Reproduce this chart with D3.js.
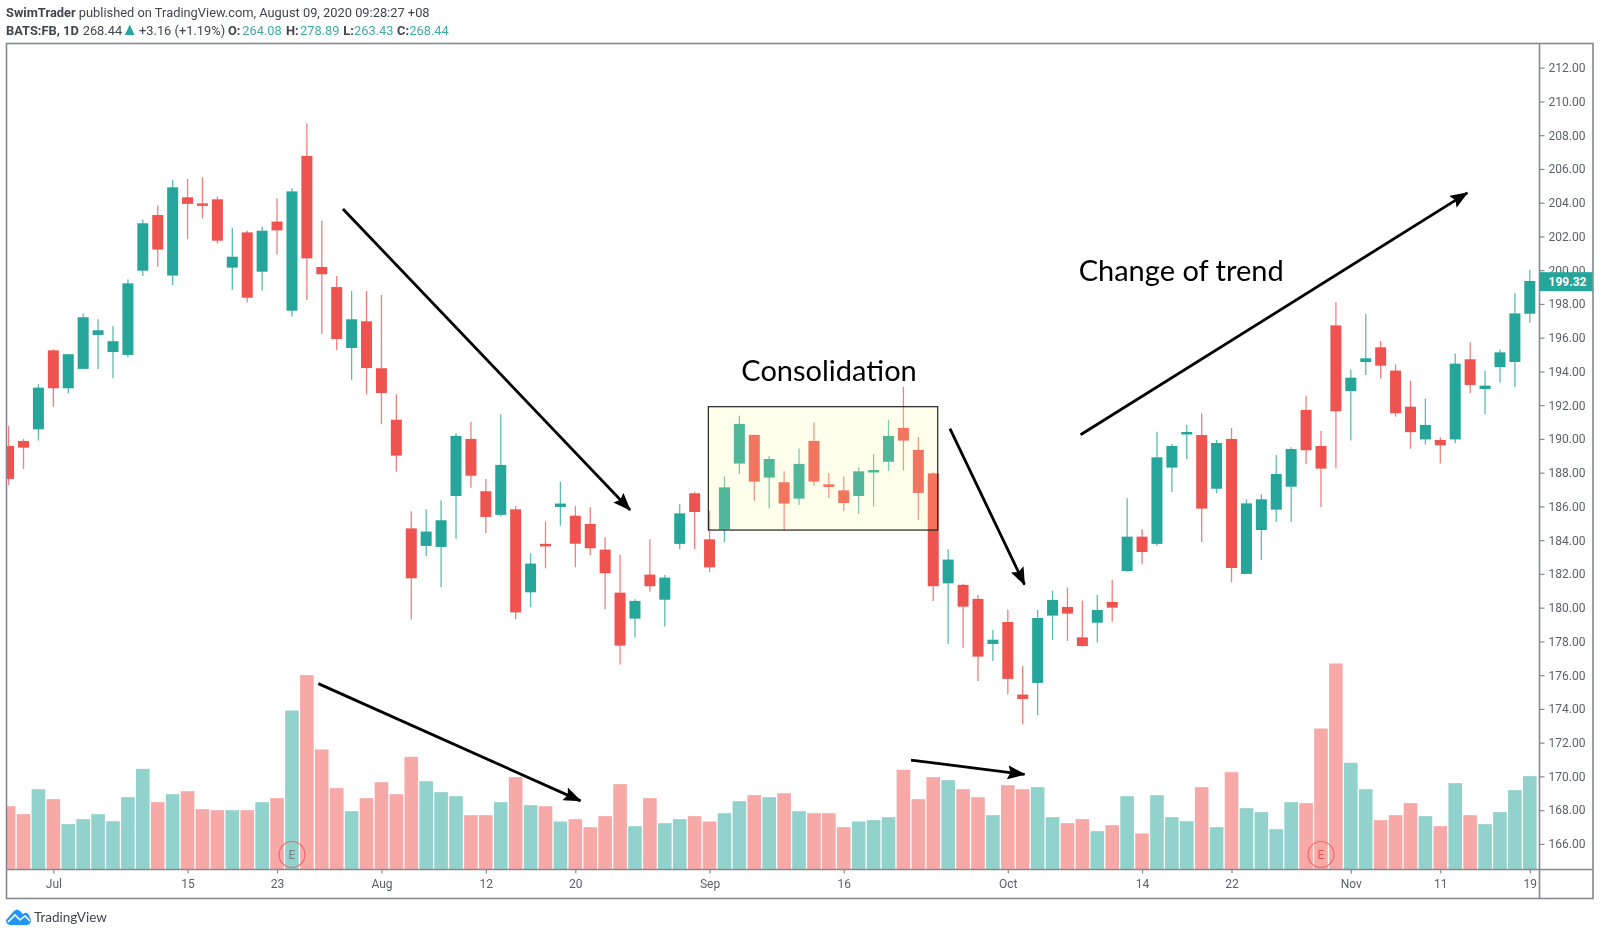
<!DOCTYPE html>
<html><head><meta charset="utf-8">
<script src="https://cdn.jsdelivr.net/npm/d3@7/dist/d3.min.js"></script>
<style>
html,body{margin:0;padding:0;background:#fff}
svg{display:block;filter:blur(0.3px)}
text{font-family:Roboto,"Liberation Sans",sans-serif}
</style></head><body>
<svg id="c" width="1600" height="936"></svg>
<script>
const opens=[189.58,189.88,190.57,195.25,193.0,194.15,196.16,195.15,194.98,199.97,203.27,199.68,204.32,203.96,204.2,200.15,202.24,199.91,202.88,197.6,206.77,200.19,199.0,195.39,196.97,194.19,191.14,184.7,183.66,183.6,186.62,190.0,186.9,185.5,185.83,180.91,183.78,185.97,185.45,184.96,183.44,180.89,179.35,181.96,180.47,183.78,186.78,184.05,184.64,188.54,190.24,187.71,187.43,186.46,189.88,187.31,186.95,186.62,188.06,188.65,190.65,189.35,187.96,181.44,181.35,180.52,177.85,179.15,174.85,175.54,179.53,180.04,178.24,179.11,180.34,182.17,184.21,183.78,188.3,190.29,190.23,187.05,190.0,182.0,184.6,185.81,187.17,191.72,189.58,196.73,192.84,194.56,195.43,194.05,191.91,189.97,189.94,189.97,194.72,192.96,194.26,194.56,197.42];
const highs=[190.77,190.0,193.24,195.31,195.05,197.44,197.09,196.69,199.46,203.01,203.84,205.35,205.41,205.5,204.36,202.52,202.34,202.58,204.26,204.85,208.7,202.93,199.66,198.77,198.77,198.53,192.64,185.71,185.83,186.36,190.33,191.02,187.63,191.46,186.03,183.22,185.1,187.47,186.03,185.95,184.17,183.14,180.5,184.05,181.94,186.13,186.84,185.73,187.78,191.38,190.25,188.99,188.08,189.44,190.97,187.96,187.78,188.32,189.11,191.12,193.1,190.12,188.02,183.46,181.41,180.75,178.68,179.87,176.55,179.87,181.01,181.19,180.42,180.77,181.64,186.48,184.64,190.43,189.7,190.83,191.5,189.94,190.65,186.42,186.72,189.05,189.5,192.56,190.47,198.1,194.12,197.4,195.8,194.42,193.45,192.39,190.1,195.07,195.73,194.05,195.31,198.63,200.01];
const lows=[187.27,188.22,189.9,191.91,192.7,194.15,194.15,193.59,194.84,199.66,200.21,199.12,201.83,203.07,201.59,198.83,198.08,198.79,200.94,197.25,198.23,196.22,195.27,193.5,192.64,190.87,188.06,179.3,183.06,181.21,184.07,187.11,184.43,185.4,179.31,180.02,182.33,184.86,182.39,183.1,179.9,176.63,178.22,180.95,178.88,183.46,183.46,182.1,183.87,187.94,186.34,185.87,184.6,186.09,187.23,186.5,185.73,185.55,185.99,188.1,188.12,185.2,180.4,177.85,177.63,175.66,176.84,174.87,173.09,173.62,178.09,178.03,177.69,177.93,179.17,182.13,182.57,183.66,186.86,188.79,183.89,186.78,181.5,181.98,182.83,185.08,185.08,188.5,185.97,188.24,189.9,193.79,193.59,191.32,189.42,189.66,188.54,189.74,192.7,191.46,193.34,193.08,196.89];
const closes=[187.63,189.48,193.04,193.0,195.02,197.21,196.44,195.79,199.22,202.78,201.22,204.91,203.93,203.84,201.75,200.8,198.37,202.34,202.36,204.67,200.7,199.76,195.92,197.09,194.2,192.72,189.01,181.74,184.51,185.18,190.18,187.82,185.38,188.46,179.72,182.61,183.68,186.17,183.79,183.52,182.04,177.75,180.4,181.27,181.78,185.59,185.67,182.39,187.13,190.89,187.47,188.81,186.17,188.52,187.47,187.15,186.2,188.08,188.16,190.18,189.9,186.8,181.27,182.85,180.06,177.1,178.1,175.78,174.59,179.39,180.46,179.65,177.73,179.86,180.0,184.21,183.3,188.91,189.58,190.41,185.87,189.76,182.35,186.18,186.42,187.92,189.4,189.33,188.24,191.64,193.63,194.78,194.34,191.52,190.4,190.83,189.62,194.46,193.2,193.16,195.13,197.44,199.36];
const volumes=[19.0,16.6,24.1,21.1,13.6,15.1,16.6,14.5,21.7,30.2,20.2,22.6,23.5,18.1,17.8,17.8,17.8,20.2,21.4,47.7,58.3,36.0,24.4,17.5,21.4,26.2,22.6,33.8,26.5,23.2,22.0,16.3,16.3,20.2,27.7,19.3,19.0,14.4,15.1,12.7,16.0,25.6,13.0,21.4,13.9,15.1,16.0,14.4,16.9,20.5,22.3,21.7,22.9,17.5,16.9,16.9,12.7,14.4,14.8,15.7,29.9,21.1,27.7,26.8,24.1,21.7,16.3,25.3,24.1,24.7,15.7,13.9,15.1,11.5,13.3,22.0,10.8,22.3,15.7,14.5,24.7,12.7,29.2,18.4,17.2,12.1,20.2,19.9,42.3,61.8,32.0,24.1,14.8,16.3,19.9,16.0,13.0,25.9,16.3,13.6,17.2,23.8,28.0];
const priceTicks=[212,210,208,206,204,202,200,198,196,194,192,190,188,186,184,182,180,178,176,174,172,170,168,166];
const timeIndex=[3,12,18,25,32,38,47,56,67,76,82,90,96,102];
const timeLabels=["Jul","15","23","Aug","12","20","Sep","16","Oct","14","22","Nov","11","19"];
const lastPrice=199.32;
const earningsIndex=[19,88];
const boxRange=[46.92,62.3,191.91,184.6];
const arrows=[[22.42,203.63,41.67,185.79],[20.77,175.5,38.35,168.55],[60.51,170.97,68.12,170.12],[63.12,190.61,68.12,181.36],[71.88,190.25,97.81,204.58]];
const notes=[["Consolidation",49.13,193.45],["Change of trend",71.75,199.37]];
const headerLine2=[["BATS:FB, 1D",6,700,0],["268.44",82.7,400,0],["+3.16 (+1.19%)",139,400,0],["O:",228,700,0],["264.08",242.3,400,1],["H:",286,700,0],["278.89",300,400,1],["L:",343.3,700,0],["263.43",354,400,1],["C:",397,700,0],["268.44",409.3,400,1]];
const UP="#26a69a",DOWN="#ef5350",INK="#5d606b",FRAME="#868993",HEAD="#42444d",VALUE="#3daea3";

const L=6.5,T=43.5,R=1539.5,B=869.5,OR=1593,OB=898.5;
const x=d3.scaleLinear().domain([0,102]).range([8.6,1529.8]);
const y=d3.scaleLinear().domain([212,166]).range([67.7,843.9]);
const yv=d3.scaleLinear().domain([0,60]).range([B,B-200]);
const svg=d3.select("#c");
const bars=d3.range(opens.length).map(i=>({i,o:opens[i],h:highs[i],l:lows[i],c:closes[i],v:volumes[i]}));
const col=d=>d.c>=d.o?UP:DOWN;

svg.append("defs").append("clipPath").attr("id","plot").append("rect")
  .attr("x",L).attr("y",T).attr("width",R-L).attr("height",B-T);
svg.select("defs").append("marker").attr("id","head").attr("markerUnits","userSpaceOnUse")
  .attr("viewBox","0 0 18 14").attr("refX",17).attr("refY",7).attr("markerWidth",18).attr("markerHeight",14)
  .attr("orient","auto").append("path").attr("d","M0,0L18,7L0,14L3,7Z").attr("fill","#000");

const g=svg.append("g").attr("clip-path","url(#plot)");
g.selectAll("rect.vol").data(bars).join("rect").attr("class","vol")
  .attr("x",d=>x(d.i)-6.8).attr("width",13.6).attr("y",d=>yv(d.v)).attr("height",d=>B-yv(d.v))
  .attr("fill",d=>col(d)).attr("opacity",.5);
g.selectAll("line.wick").data(bars).join("line").attr("class","wick")
  .attr("x1",d=>x(d.i)).attr("x2",d=>x(d.i)).attr("y1",d=>y(d.h)).attr("y2",d=>y(d.l))
  .attr("stroke",col).attr("stroke-width",1.3).attr("opacity",.75);
g.selectAll("rect.body").data(bars).join("rect").attr("class","body")
  .attr("x",d=>x(d.i)-5.5).attr("width",11)
  .attr("y",d=>y(Math.max(d.o,d.c)))
  .attr("height",d=>Math.max(2.5,Math.abs(y(d.o)-y(d.c))))
  .attr("fill",col);

const e=g.selectAll("g.earn").data(earningsIndex).join("g").attr("class","earn")
  .attr("transform",i=>`translate(${x(i)},854.5)`);
e.append("circle").attr("r",13).attr("fill","none").attr("stroke",DOWN).attr("stroke-width",1.2).attr("opacity",.75);
e.append("text").attr("text-anchor","middle").attr("dy","0.36em").attr("font-size",12).attr("fill",(i,k)=>k?"#ef5350":"#7d7f88").text("E");

svg.append("rect").attr("x",x(boxRange[0])).attr("y",y(boxRange[2]))
  .attr("width",x(boxRange[1])-x(boxRange[0])).attr("height",y(boxRange[3])-y(boxRange[2]))
  .attr("fill","#ffff99").attr("fill-opacity",.2).attr("stroke","#222").attr("stroke-width",1.2);

svg.selectAll("line.arrow").data(arrows).join("line").attr("class","arrow")
  .attr("x1",d=>x(d[0])).attr("y1",d=>y(d[1])).attr("x2",d=>x(d[2])).attr("y2",d=>y(d[3]))
  .attr("stroke","#000").attr("stroke-width",2.8).attr("marker-end","url(#head)");

svg.selectAll("text.note").data(notes).join("text").attr("class","note")
  .attr("x",d=>x(d[1])).attr("y",d=>y(d[2])).attr("font-size",29).style("font-family","Lato,sans-serif")
  .attr("fill","#000").text(d=>d[0]);

// axes
const ya=svg.append("g").attr("transform",`translate(${R},0)`)
  .call(d3.axisRight(y).tickValues(priceTicks).tickFormat(d=>d.toFixed(2)).tickSize(5).tickPadding(4));
const xa=svg.append("g").attr("transform",`translate(0,${B})`)
  .call(d3.axisBottom(x).tickValues(timeIndex).tickFormat((d,k)=>timeLabels[k]).tickSize(4).tickPadding(6));
[ya,xa].forEach(a=>{a.select(".domain").remove();a.selectAll("line").attr("stroke",FRAME).attr("stroke-width",1.2);
  a.selectAll("text").attr("fill",INK).attr("font-size",12).style("font-family","Roboto,sans-serif");});

// frame
svg.append("rect").attr("x",L).attr("y",T).attr("width",OR-L).attr("height",OB-T).attr("fill","none").attr("stroke",FRAME).attr("stroke-width",1.6);
svg.append("line").attr("x1",R).attr("x2",R).attr("y1",T).attr("y2",OB).attr("stroke",FRAME).attr("stroke-width",1.6);
svg.append("line").attr("x1",L).attr("x2",OR).attr("y1",B).attr("y2",B).attr("stroke",FRAME).attr("stroke-width",1.4);

// last price label
const lp=svg.append("g").attr("transform",`translate(${R},${y(lastPrice)})`);
lp.append("rect").attr("x",0).attr("y",-9.5).attr("width",53).attr("height",19).attr("fill",UP);
lp.append("text").attr("x",9).attr("dy","0.36em").attr("fill","#fff").attr("font-size",12).attr("font-weight",700).text(lastPrice.toFixed(2));

// header
const hd=svg.append("g").style("font-family","Lato,sans-serif").attr("fill",HEAD);
const l1=hd.append("text").attr("x",6).attr("y",17).attr("font-size",12.85);
l1.append("tspan").attr("font-weight",700).text("SwimTrader");
l1.append("tspan").text(" published on TradingView.com, August 09, 2020 09:28:27 +08");
hd.selectAll("text.h2").data(headerLine2).join("text").attr("class","h2")
  .attr("x",d=>d[1]).attr("y",34.5).attr("font-size",12.85).attr("font-weight",d=>d[2])
  .attr("fill",d=>d[3]?VALUE:HEAD).text(d=>d[0]);
hd.append("path").attr("d",d3.line()([[125,35],[134.5,35],[129.75,24.5]])+"Z").attr("fill",UP);

// logo
const lg=svg.append("g").attr("transform","translate(6,908)");
lg.append("path").attr("d","M0,12 L8,3 Q11,0 14,3 L17,6 Q20,3 23,7 L25,12 Q25,17 20,17 L5,17 Q0,17 0,12Z").attr("fill","#2196f3");
lg.append("path").attr("d","M2,14 L9,7 L14,12 L19,8 L24,13").attr("fill","none").attr("stroke","#fff").attr("stroke-width",1.6);
svg.append("text").attr("x",34).attr("y",921.5).attr("font-size",13.5).style("font-family","Lato,sans-serif").attr("fill",HEAD).text("TradingView");
</script>
</body></html>
